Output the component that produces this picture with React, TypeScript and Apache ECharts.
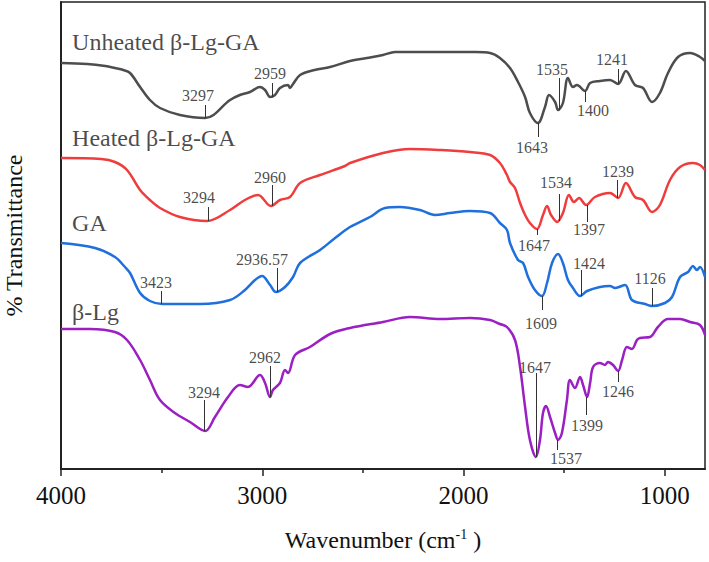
import React, { useEffect, useRef } from 'react';
import * as echarts from 'echarts';

const FONT = "'Times New Roman', 'Liberation Serif', serif";

// x axis (wavenumber, cm-1)
const xMin = 800;
const xMax = 4000;
const xTicks = [1000, 2000, 3000, 4000];
const xMinorTicks = [1500, 2500, 3500];
// y axis: offset transmittance (arbitrary units, curves stacked)
const yMin = 0;
const yMax = 467;

const seriesNames = ['Unheated β-Lg-GA', 'Heated β-Lg-GA', 'GA', 'β-Lg'];
const seriesColors = ['#4d4d4d', '#ef3c3c', '#1f6fdc', '#9b1fc2'];
// where the name of each spectrum is written [wavenumber, y]
const seriesNamePos = [
  [3945, 427],
  [3945, 331],
  [3945, 246],
  [3945, 157],
];

const unheated = [
  [4000, 406], [3870, 405], [3780, 403], [3732, 401], [3690, 399], [3657, 396], [3607, 382],
  [3558, 369], [3508, 361], [3409, 354], [3284, 351], [3160, 369], [3111, 374], [3061, 377],
  [3011, 382], [2986, 379], [2961, 372], [2937, 374], [2912, 381], [2872, 384], [2862, 381],
  [2847, 385], [2812, 394], [2740, 399], [2663, 402], [2564, 408], [2480, 411], [2400, 414],
  [2340, 417], [2216, 417], [2067, 417], [1940, 417], [1868, 416], [1819, 411], [1769, 401],
  [1729, 387], [1694, 372], [1670, 356], [1630, 346], [1595, 362], [1575, 374], [1545, 367],
  [1530, 359], [1506, 366], [1481, 391], [1456, 382], [1436, 384], [1396, 378], [1371, 386],
  [1322, 388], [1272, 389], [1232, 385], [1193, 398], [1148, 384], [1108, 381], [1063, 367],
  [1024, 376], [984, 396], [934, 412], [874, 416], [825, 412], [800, 408],
];

const heated = [
  [4000, 311], [3800, 310], [3732, 307], [3672, 299], [3607, 279], [3558, 269], [3508, 261],
  [3409, 252], [3275, 248], [3160, 259], [3086, 269], [3021, 274], [2957, 263], [2912, 269],
  [2862, 272], [2812, 286], [2713, 294], [2589, 303], [2564, 306], [2400, 316], [2266, 320],
  [2117, 319], [1968, 317], [1868, 314], [1819, 306], [1784, 294], [1769, 287], [1744, 281],
  [1719, 266], [1694, 254], [1670, 246], [1635, 240], [1605, 254], [1585, 263], [1565, 254],
  [1535, 247], [1506, 256], [1476, 274], [1451, 267], [1426, 271], [1391, 264], [1347, 272],
  [1272, 276], [1232, 271], [1193, 286], [1148, 272], [1108, 269], [1063, 257], [1024, 264],
  [974, 289], [924, 302], [860, 306], [825, 304], [800, 299],
];

const ga = [
  [4000, 226], [3831, 221], [3732, 212], [3682, 202], [3657, 196], [3607, 176], [3558, 168],
  [3498, 165], [3309, 165], [3160, 169], [3086, 179], [3036, 189], [3001, 193], [2961, 184],
  [2932, 177], [2887, 182], [2847, 192], [2812, 206], [2713, 219], [2638, 231], [2564, 242],
  [2465, 252], [2390, 261], [2316, 262], [2216, 259], [2142, 254], [2067, 256], [1968, 258],
  [1868, 256], [1819, 246], [1784, 239], [1769, 226], [1729, 209], [1704, 206], [1679, 192],
  [1645, 179], [1610, 173], [1585, 186], [1560, 206], [1530, 215], [1506, 206], [1481, 189],
  [1456, 181], [1421, 173], [1386, 178], [1322, 182], [1272, 183], [1247, 181], [1197, 184],
  [1163, 169], [1098, 165], [1063, 163], [999, 166], [964, 172], [924, 192], [884, 197],
  [860, 203], [840, 199], [825, 202], [800, 192],
];

const betaLg = [
  [4000, 140], [3856, 140], [3732, 137], [3672, 129], [3607, 109], [3558, 89], [3508, 69],
  [3434, 56], [3359, 47], [3284, 38], [3235, 52], [3170, 72], [3111, 84], [3071, 82],
  [3011, 94], [2986, 86], [2961, 72], [2947, 79], [2912, 86], [2887, 99], [2872, 96],
  [2837, 114], [2763, 122], [2663, 135], [2564, 141], [2400, 147], [2266, 152], [2117, 150],
  [1968, 151], [1868, 149], [1819, 145], [1784, 142], [1744, 129], [1719, 102], [1694, 62],
  [1670, 29], [1640, 12], [1620, 29], [1605, 56], [1590, 63], [1570, 52], [1545, 36],
  [1530, 29], [1511, 36], [1486, 69], [1471, 89], [1446, 81], [1421, 92], [1406, 84],
  [1386, 72], [1371, 86], [1356, 102], [1322, 106], [1297, 104], [1282, 107], [1257, 104],
  [1232, 98], [1212, 109], [1188, 122], [1163, 120], [1138, 129], [1123, 131], [1073, 132],
  [1034, 142], [984, 150], [924, 150], [874, 147], [825, 144], [800, 134],
];

const spectra = [unheated, heated, ga, betaLg];

// peak annotations: [label, line wavenumber, line y from, line y to, text wavenumber, text y]
const unheatedPeaks = [
  ['3297', 3284, 351, 364, 3319, 374],
  ['2959', 2952, 372, 386, 2961, 396],
  ['1643', 1630, 346, 332, 1660, 322],
  ['1535', 1525, 359, 391, 1560, 400],
  ['1400', 1396, 378, 367, 1357, 359],
  ['1241', 1232, 385, 400, 1262, 410],
];
const heatedPeaks = [
  ['3294', 3270, 248, 262, 3314, 272],
  ['2960', 2952, 263, 284, 2961, 292],
  ['1647', 1635, 240, 234, 1650, 224],
  ['1534', 1525, 248, 275, 1540, 287],
  ['1397', 1386, 264, 247, 1376, 240],
  ['1239', 1237, 271, 289, 1232, 298],
];
const gaPeaks = [
  ['3423', 3503, 165, 178, 3528, 187],
  ['2936.57', 2927, 177, 201, 3001, 210],
  ['1609', 1610, 173, 159, 1615, 146],
  ['1424', 1416, 173, 199, 1376, 206],
  ['1126', 1063, 163, 181, 1073, 191],
];
const betaLgPeaks = [
  ['3294', 3289, 38, 69, 3289, 77],
  ['2962', 2961, 72, 103, 2986, 112],
  ['1647', 1640, 12, 96, 1645, 102],
  ['1537', 1535, 29, 19, 1491, 11],
  ['1399', 1391, 72, 54, 1386, 44],
  ['1246', 1232, 98, 87, 1232, 78],
];
const allPeaks = [unheatedPeaks, heatedPeaks, gaPeaks, betaLgPeaks];

export default function App() {
  const ref = useRef<HTMLDivElement>(null);

  useEffect(() => {
    document.body.style.margin = '0';
    if (!ref.current) return;
    const chart = echarts.init(ref.current, null, { renderer: 'svg' });

    const lineSeries = spectra.map((data, i) => ({
      type: 'line',
      name: seriesNames[i],
      data,
      showSymbol: false,
      symbol: 'none',
      smooth: 0.35,
      lineStyle: { color: seriesColors[i], width: 2.5 },
      itemStyle: { color: seriesColors[i] },
      z: 3,
      markLine: {
        silent: true,
        symbol: ['none', 'none'],
        label: { show: false },
        lineStyle: { color: '#333', width: 1, type: 'solid' },
        data: allPeaks[i].map((p) => [
          { coord: [p[1], p[2]] },
          { coord: [p[1], p[3]] },
        ]),
      },
    }));

    const peakTextData: any[] = [];
    allPeaks.forEach((list) =>
      list.forEach((p) => peakTextData.push([p[4], p[5], p[0]]))
    );

    const peakTextSeries = {
      type: 'scatter',
      data: peakTextData,
      symbolSize: 1,
      itemStyle: { color: 'rgba(0,0,0,0)' },
      silent: true,
      z: 5,
      label: {
        show: true,
        position: 'inside',
        formatter: (p: any) => p.value[2],
        color: '#1a1a1a',
        fontSize: 16,
        fontFamily: FONT,
      },
    };

    const nameSeries = {
      type: 'scatter',
      data: seriesNamePos.map((p, i) => [p[0], p[1], seriesNames[i]]),
      symbolSize: 1,
      itemStyle: { color: 'rgba(0,0,0,0)' },
      silent: true,
      z: 5,
      label: {
        show: true,
        position: 'inside',
        align: 'left',
        formatter: (p: any) => p.value[2],
        color: '#1a1a1a',
        fontSize: 24,
        fontFamily: FONT,
      },
    };

    chart.setOption({
      animation: false,
      backgroundColor: '#ffffff',
      grid: {
        left: 61,
        right: 4,
        top: 2,
        bottom: 93,
        show: true,
        borderColor: '#222',
        borderWidth: 1.5,
        backgroundColor: 'transparent',
        containLabel: false,
        outerBoundsMode: 'none',
      },
      xAxis: [
        {
          type: 'value',
          inverse: true,
          min: xMin,
          max: xMax,
          position: 'bottom',
          axisLine: { show: true, lineStyle: { color: '#222', width: 2 } },
          axisTick: {
            show: true,
            customValues: xTicks,
            length: 7,
            lineStyle: { color: '#222', width: 1.5 },
          },
          axisLabel: {
            show: true,
            customValues: xTicks,
            formatter: (v: number) => String(v),
            fontSize: 25,
            fontFamily: FONT,
            color: '#111',
            margin: 14,
          },
          splitLine: { show: false },
          name: 'Wavenumber (cm{sup|-1} )',
          nameLocation: 'middle',
          nameGap: 58,
          nameTextStyle: {
            fontSize: 24,
            fontFamily: FONT,
            color: '#111',
            rich: {
              sup: { fontSize: 14, fontFamily: FONT, color: '#111', padding: [0, 0, 12, 0] },
            },
          },
        },
        {
          type: 'value',
          inverse: true,
          min: xMin,
          max: xMax,
          position: 'bottom',
          axisLine: { show: false },
          axisTick: {
            show: true,
            customValues: xMinorTicks,
            length: 4,
            lineStyle: { color: '#222', width: 1.5 },
          },
          axisLabel: { show: false },
          splitLine: { show: false },
        },
      ],
      yAxis: {
        type: 'value',
        min: yMin,
        max: yMax,
        axisLine: { show: true, lineStyle: { color: '#222', width: 2 } },
        axisTick: { show: false },
        axisLabel: { show: false },
        splitLine: { show: false },
        name: '% Transmittance',
        nameLocation: 'middle',
        nameGap: 35,
        nameTextStyle: { fontSize: 24, fontFamily: FONT, color: '#111' },
      },
      series: [...lineSeries, peakTextSeries, nameSeries],
    });

    return () => chart.dispose();
  }, []);

  return <div ref={ref} style={{ width: 709, height: 562 }} />;
}
